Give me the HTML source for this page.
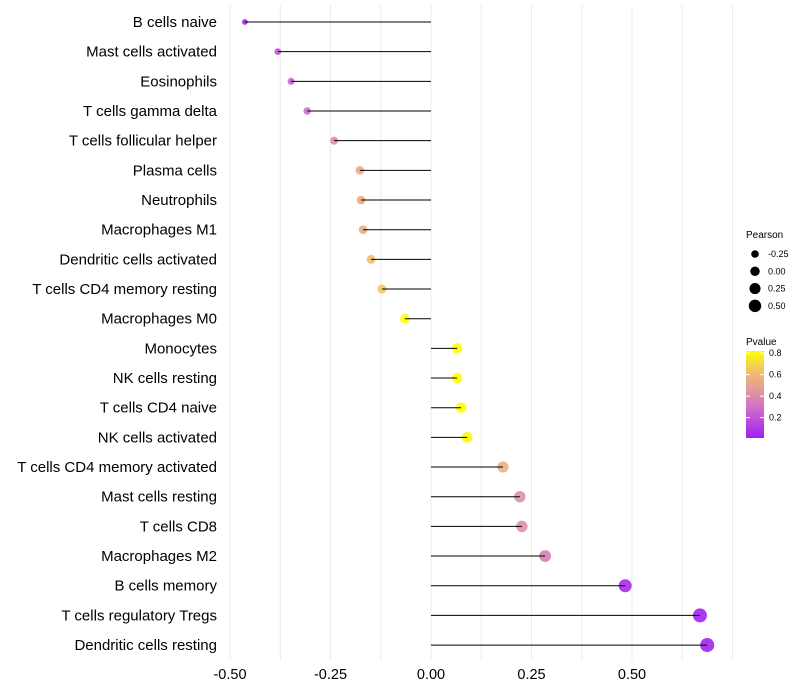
<!DOCTYPE html>
<html><head><meta charset="utf-8"><style>
body{margin:0;background:#fff;font-family:"Liberation Sans",sans-serif}
svg{display:block}
</style></head><body>
<svg id="chart" width="800" height="700" xmlns="http://www.w3.org/2000/svg">
<defs><linearGradient id="pg" x1="0" y1="1" x2="0" y2="0">
<stop offset="0" stop-color="#a020f0"/><stop offset="0.35" stop-color="#cf6fc8"/><stop offset="0.55" stop-color="#e29a9c"/><stop offset="0.75" stop-color="#f0bb70"/><stop offset="1" stop-color="#ffff00"/></linearGradient></defs>
<g id="grid"></g>
<g id="marks"></g>
<g id="labels"></g>
<g id="xticks"></g>
<g font-size="9" fill="#000">
<text x="746" y="238" font-size="10">Pearson</text>
<g id="sizeLegend"></g>
</g>
<g font-size="9">
<text x="746" y="345" font-size="10">Pvalue</text>
<rect x="746" y="351" width="18" height="87" fill="url(#pg)"/>
<g id="cbTicks"></g>
</g>
</svg>
<script>
const categories=["B cells naive","Mast cells activated","Eosinophils","T cells gamma delta","T cells follicular helper","Plasma cells","Neutrophils","Macrophages M1","Dendritic cells activated","T cells CD4 memory resting","Macrophages M0","Monocytes","NK cells resting","T cells CD4 naive","NK cells activated","T cells CD4 memory activated","Mast cells resting","T cells CD8","Macrophages M2","B cells memory","T cells regulatory  Tregs","Dendritic cells resting"];
const pearson=[-0.463,-0.381,-0.348,-0.308,-0.241,-0.177,-0.174,-0.169,-0.149,-0.122,-0.065,0.065,0.065,0.075,0.090,0.179,0.221,0.226,0.284,0.483,0.669,0.687];
const pvalue=[0.04,0.22,0.26,0.3,0.42,0.55,0.55,0.56,0.62,0.66,0.84,0.84,0.84,0.83,0.8,0.56,0.43,0.43,0.37,0.06,0.03,0.03];
const xTicks=[-0.5,-0.25,0,0.25,0.5];
const xTickLabels=["-0.50","-0.25","0.00","0.25","0.50"];
const sizeBreaks=[-0.25,0,0.25,0.5];
const cbBreaks=[0.2,0.4,0.6,0.8];
const NS="http://www.w3.org/2000/svg";
const x=v=>431+v*402;
const y=i=>22+i*29.67;
const r=v=>Math.sqrt(Math.max(1,25+36*v));
const cbY=p=>437-(p-0.02)*(86/0.8);
function col(p){const t=Math.max(0,Math.min(1,(p-0.02)/0.8));
const st=[[0,[160,32,240]],[0.35,[207,111,200]],[0.55,[226,154,156]],[0.75,[240,187,112]],[1,[255,255,0]]];
for(let k=1;k<st.length;k++){if(t<=st[k][0]){const a=st[k-1],b=st[k],f=(t-a[0])/(b[0]-a[0]);return "rgb("+a[1].map((c,j)=>Math.round(c+(b[1][j]-c)*f)).join(",")+")";}}return "rgb(255,255,0)";}
function mk(tag,attrs,parent){const e=document.createElementNS(NS,tag);for(const k in attrs)e.setAttribute(k,attrs[k]);parent.appendChild(e);return e;}
const grid=document.getElementById('grid');
for(let v=-0.5;v<=0.76;v+=0.125){const l=mk('line',{x1:x(v),x2:x(v),y1:5,y2:660,stroke:'#ebebeb','stroke-width':1},grid);

}
const marks=document.getElementById('marks'),labels=document.getElementById('labels');
categories.forEach((c,i)=>{
const pt=mk('circle',{cx:x(pearson[i]),cy:y(i),r:r(pearson[i]),fill:col(pvalue[i]),'fill-opacity':0.9},marks);


const ln=mk('line',{x1:x(0),x2:x(pearson[i]),y1:y(i),y2:y(i),stroke:'#000','stroke-width':1},marks);


const t=mk('text',{x:217,y:y(i)+5,'text-anchor':'end','font-size':15,fill:'#000'},labels);t.textContent=c;


});
const xt=document.getElementById('xticks');
xTicks.forEach((v,i)=>{const t=mk('text',{x:x(v),y:679,'text-anchor':'middle','font-size':14.5,fill:'#000'},xt);t.textContent=xTickLabels[i];

});
const sl=document.getElementById('sizeLegend');
sizeBreaks.forEach((v,i)=>{const cy=254+i*17.3;
const c=mk('circle',{cx:755,cy:cy,r:r(v)*0.95,fill:'#000'},sl);


const t=mk('text',{x:768,y:cy+3,'font-size':9},sl);t.textContent=v.toFixed(2);

});
const cb=document.getElementById('cbTicks');
cbBreaks.forEach(p=>{const yy=cbY(p);
mk('line',{x1:746,x2:750,y1:yy,y2:yy,stroke:'#fff'},cb);mk('line',{x1:760,x2:764,y1:yy,y2:yy,stroke:'#fff'},cb);
const t=mk('text',{x:769,y:yy+3,'font-size':9},cb);t.textContent=p.toFixed(1);

});
</script>
</body></html>
